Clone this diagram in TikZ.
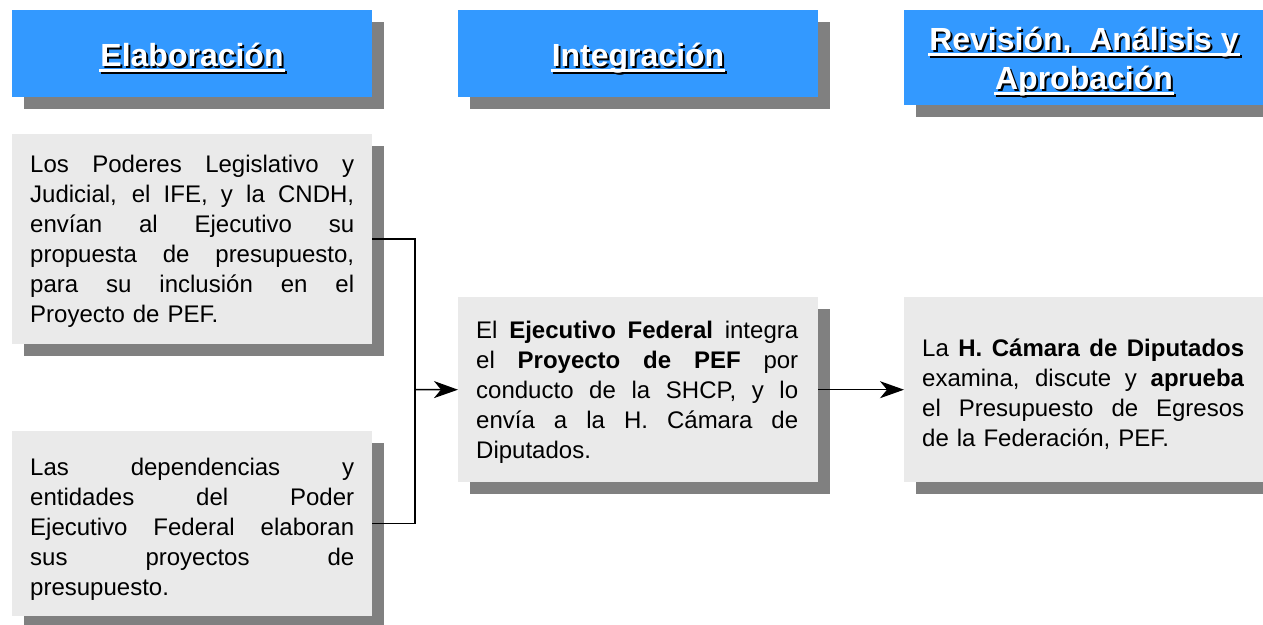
\documentclass[tikz,border=0pt]{standalone}
\usepackage{fontspec}
\setmainfont{Liberation Sans}
\usetikzlibrary{arrows.meta,shadows,calc}
\definecolor{hblue}{RGB}{51,153,255}
\definecolor{shgray}{RGB}{128,128,128}
\definecolor{boxgray}{RGB}{234,234,234}
\newcommand\jline[2][324pt]{\leavevmode\hbox to #1{\spaceskip=0.278em plus 1fil\relax #2}}
\newcommand\htitle[4]{%
  \node[htext, text=black] (#1s) at (#2+2,#3+2) {#4};
  \draw[black, line width=2.5pt] ($(#1s.base west)+(-1,4.5)$) -- ($(#1s.base east)+(1,4.5)$);
  \node[htext] (#1) at (#2,#3) {#4};
  \draw[white, line width=2.5pt] ($(#1.base west)+(-1,4.5)$) -- ($(#1.base east)+(1,4.5)$);
}
\begin{document}
\begin{tikzpicture}[x=1pt,y=-1pt,
  hbox/.style={fill=hblue, draw=none, anchor=north west, inner sep=0pt,
    minimum width=360pt,
    drop shadow={shadow xshift=12pt, shadow yshift=-12pt, fill=shgray, opacity=1}},
  tbox/.style={hbox, fill=boxgray},
  btext/.style={anchor=base west, inner sep=0pt, text width=#1, align=left,
    font=\fontsize{24}{30}\selectfont},
  htext/.style={anchor=base, inner sep=0pt, font=\bfseries\fontsize{32}{40}\selectfont, text=white},
  conn/.style={line width=1.5pt, black},
  arr/.style={conn, -{Stealth[length=24pt,width=17pt,inset=7pt]}},
]
\useasboundingbox (0,0) rectangle (1263,624);
\fill[white] (0,0) rectangle (1263,624);
\clip (0,0) rectangle (1263,624);

% headers
\node[hbox, minimum height=87pt] (h1) at (12,10) {};
\node[hbox, minimum height=87pt] (h2) at (458,10) {};
\node[hbox, minimum height=95pt] (h3) at (904,10) {};
\htitle{h1t}{192}{66}{Elaboración}
\htitle{h2t}{638}{66}{Integración}
\htitle{h3ta}{1084}{50}{Revisión,\ \ Análisis y}
\htitle{h3tb}{1084}{89}{Aprobación}

% boxes
\node[tbox, minimum height=210pt] (b1) at (12,134) {};
\node[tbox, minimum height=185pt] (b2) at (12,431) {};
\node[tbox, minimum height=185pt] (mid) at (458,297) {};
\node[tbox, minimum height=185pt] (rt) at (904,297) {};

\node[btext=324pt] (t1) at (30,172) {%
\jline{Los Poderes Legislativo y}\\
\jline{Judicial, el IFE, y la CNDH,}\\
\jline{envían al Ejecutivo su}\\
\jline{propuesta de presupuesto,}\\
\jline{para su inclusión en el}\\
Proyecto de PEF.};

\node[btext=324pt] (t2) at (30,475) {%
\jline{Las dependencias y}\\
\jline{entidades del Poder}\\
\jline{Ejecutivo Federal elaboran}\\
\jline{sus proyectos de}\\
presupuesto.};

\node[btext=322pt] (tm) at (476,338) {%
\jline[322pt]{El \textbf{Ejecutivo Federal} integra}\\
\jline[322pt]{el \textbf{Proyecto de PEF} por}\\
\jline[322pt]{conducto de la SHCP, y lo}\\
\jline[322pt]{envía a la H. Cámara de}\\
Diputados.};

\node[btext=322pt] (tr) at (922,356) {%
\jline[322pt]{La \textbf{H. Cámara de Diputados}}\\
\jline[322pt]{examina, discute y \textbf{aprueba}}\\
\jline[322pt]{el Presupuesto de Egresos}\\
de la Federación, PEF.};

% connectors
\coordinate (j) at (415,389.5);
\draw[conn] (b1.east) -| (j) |- (b2.east);
\draw[arr] (j) -- (mid.west);
\draw[arr] (mid.east) -- (rt.west);
\end{tikzpicture}
\end{document}
